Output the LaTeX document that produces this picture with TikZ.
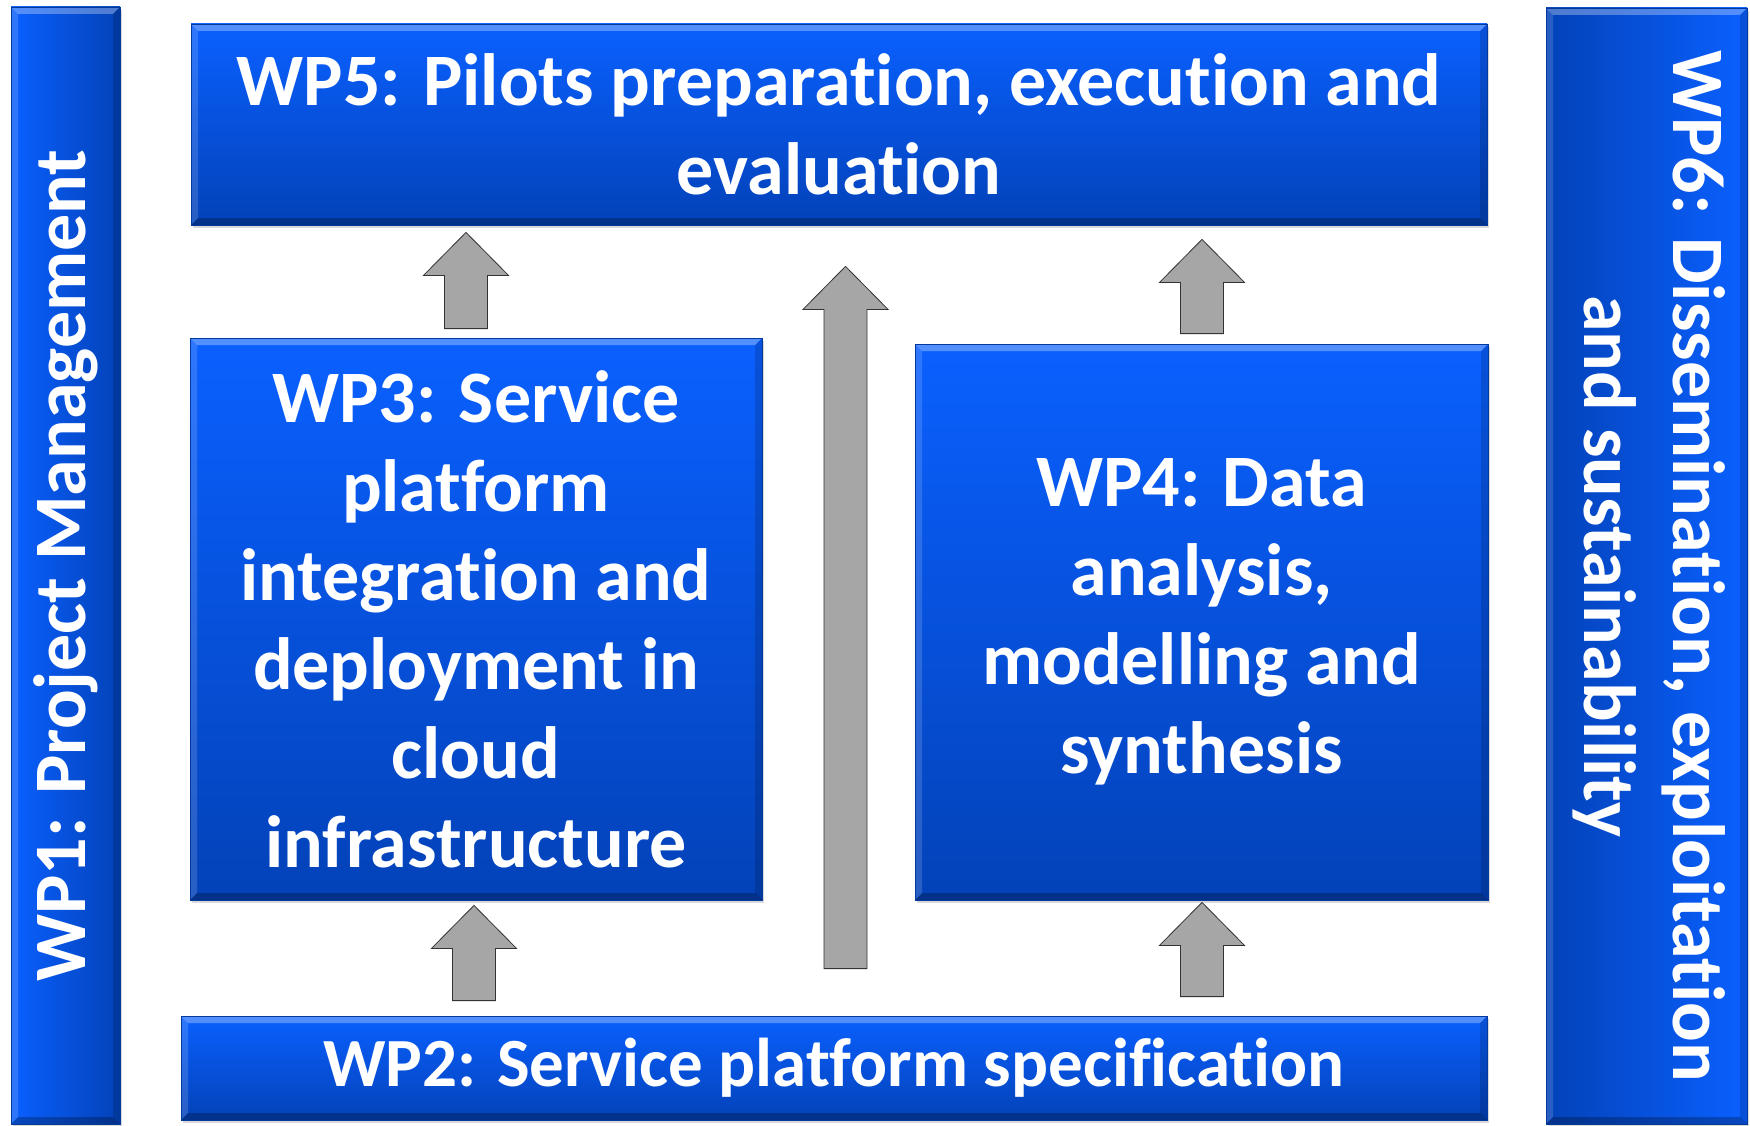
\documentclass[tikz,border=0pt]{standalone}
\usepackage{fontspec}
\setmainfont{Carlito}[Ligatures=NoCommon]
\usepackage{graphicx}
\usepackage{xcolor}
\usetikzlibrary{calc,shadows}
\definecolor{bleuclair}{RGB}{10, 96, 255}
\definecolor{bleufonce}{RGB}{3, 66, 184}
\definecolor{gris}{RGB}{166, 166, 166}

\tikzset{
    boite/.style={rectangle, inner sep=0pt, text=white, align=center,
        top color=bleuclair, bottom color=bleufonce,
        draw=bleufonce!85!black, line width=0.8pt,
        font=\fontsize{74}{89}\selectfont\bfseries,
        drop shadow={shadow xshift=1.5pt, shadow yshift=-3pt, opacity=.3},
        path picture={
            \fill[white,opacity=.3] (path picture bounding box.north west) -- (path picture bounding box.north east)
                -- ++(-7pt,-7pt) -- ([shift={(7pt,-7pt)}]path picture bounding box.north west) -- cycle;
            \fill[white,opacity=.15] (path picture bounding box.north west) -- (path picture bounding box.south west)
                -- ++(7pt,7pt) -- ([shift={(7pt,-7pt)}]path picture bounding box.north west) -- cycle;
            \fill[black,opacity=.15] (path picture bounding box.north east) -- (path picture bounding box.south east)
                -- ++(-7pt,7pt) -- ([shift={(-7pt,-7pt)}]path picture bounding box.north east) -- cycle;
            \fill[black,opacity=.25] (path picture bounding box.south west) -- (path picture bounding box.south east)
                -- ++(-7pt,7pt) -- ([shift={(7pt,7pt)}]path picture bounding box.south west) -- cycle;
        }},
    fleche/.style={fill=gris, draw=black!80, line width=0.8pt, line join=miter}
}

% grosse fleche verticale : #1 = base, #2 = pointe
\newcommand{\flechebloc}[2]{%
    \draw[fleche] let \p1=(#1), \p2=(#2) in
        (\x1-21.5pt,\y1) -- (\x1+21.5pt,\y1) -- (\x1+21.5pt,\y2-43pt) -- (\x1+42.5pt,\y2-43pt)
        -- (\x1,\y2) -- (\x1-42.5pt,\y2-43pt) -- (\x1-21.5pt,\y2-43pt) -- cycle;}

\begin{document}
\begin{tikzpicture}[x=1pt, y=-1pt]
                \useasboundingbox (0,0) rectangle (1750,1126);

                % WP1 a gauche
                \node[boite, left color=bleuclair, right color=bleufonce, minimum width=109, minimum height=1117] (wp1) at (65.5,565.5)
                    {\rotatebox{90}{WP1: Project Management}};

                % WP6 a droite
                \node[boite, left color=bleufonce, right color=bleuclair, minimum width=201, minimum height=1116] (wp6) at (1646.5,566)
                    {\rotatebox{-90}{\begin{tabular}{@{}c@{}}WP6: Dissemination, exploitation\\ and sustainability\end{tabular}}};

                % WP5 en haut
                \node[boite, minimum width=1296, minimum height=201] (wp5) at (839,124.5)
                    {WP5: Pilots preparation, execution and\\ evaluation};

                % WP3 et WP4 au milieu
                \node[boite, minimum width=572, minimum height=562] (wp3) at (476,619)
                    {WP3: Service\\ platform\\ integration and\\ deployment in\\ cloud\\ infrastructure};
                \node[boite, minimum width=573, minimum height=556] (wp4) at (1201.5,622)
                    {WP4: Data\\ analysis,\\ modelling and\\ synthesis};

                % WP2 en bas
                \node[boite, minimum width=1306, minimum height=104, font=\fontsize{69}{84}\selectfont\bfseries] (wp2) at (834,1068)
                    {WP2: Service platform specification};

                % fleches
                \flechebloc{$(wp3.south |- wp2.north)+(-2,-15)$}{$(wp3.south)+(-2,5)$}
                \flechebloc{$(wp3.north)+(-10,-9)$}{$(wp3.north |- wp5.south)+(-10,7)$}
                \flechebloc{$(wp2.north)+(11.5,-47)$}{$(wp5.south)+(6.5,41)$}
                \flechebloc{$(wp4.south |- wp2.north)+(0.5,-19)$}{$(wp4.south)+(0.5,2)$}
                \flechebloc{$(wp4.north)+(0.5,-10)$}{$(wp4.north |- wp5.south)+(0.5,14)$}

\end{tikzpicture}
\end{document}
